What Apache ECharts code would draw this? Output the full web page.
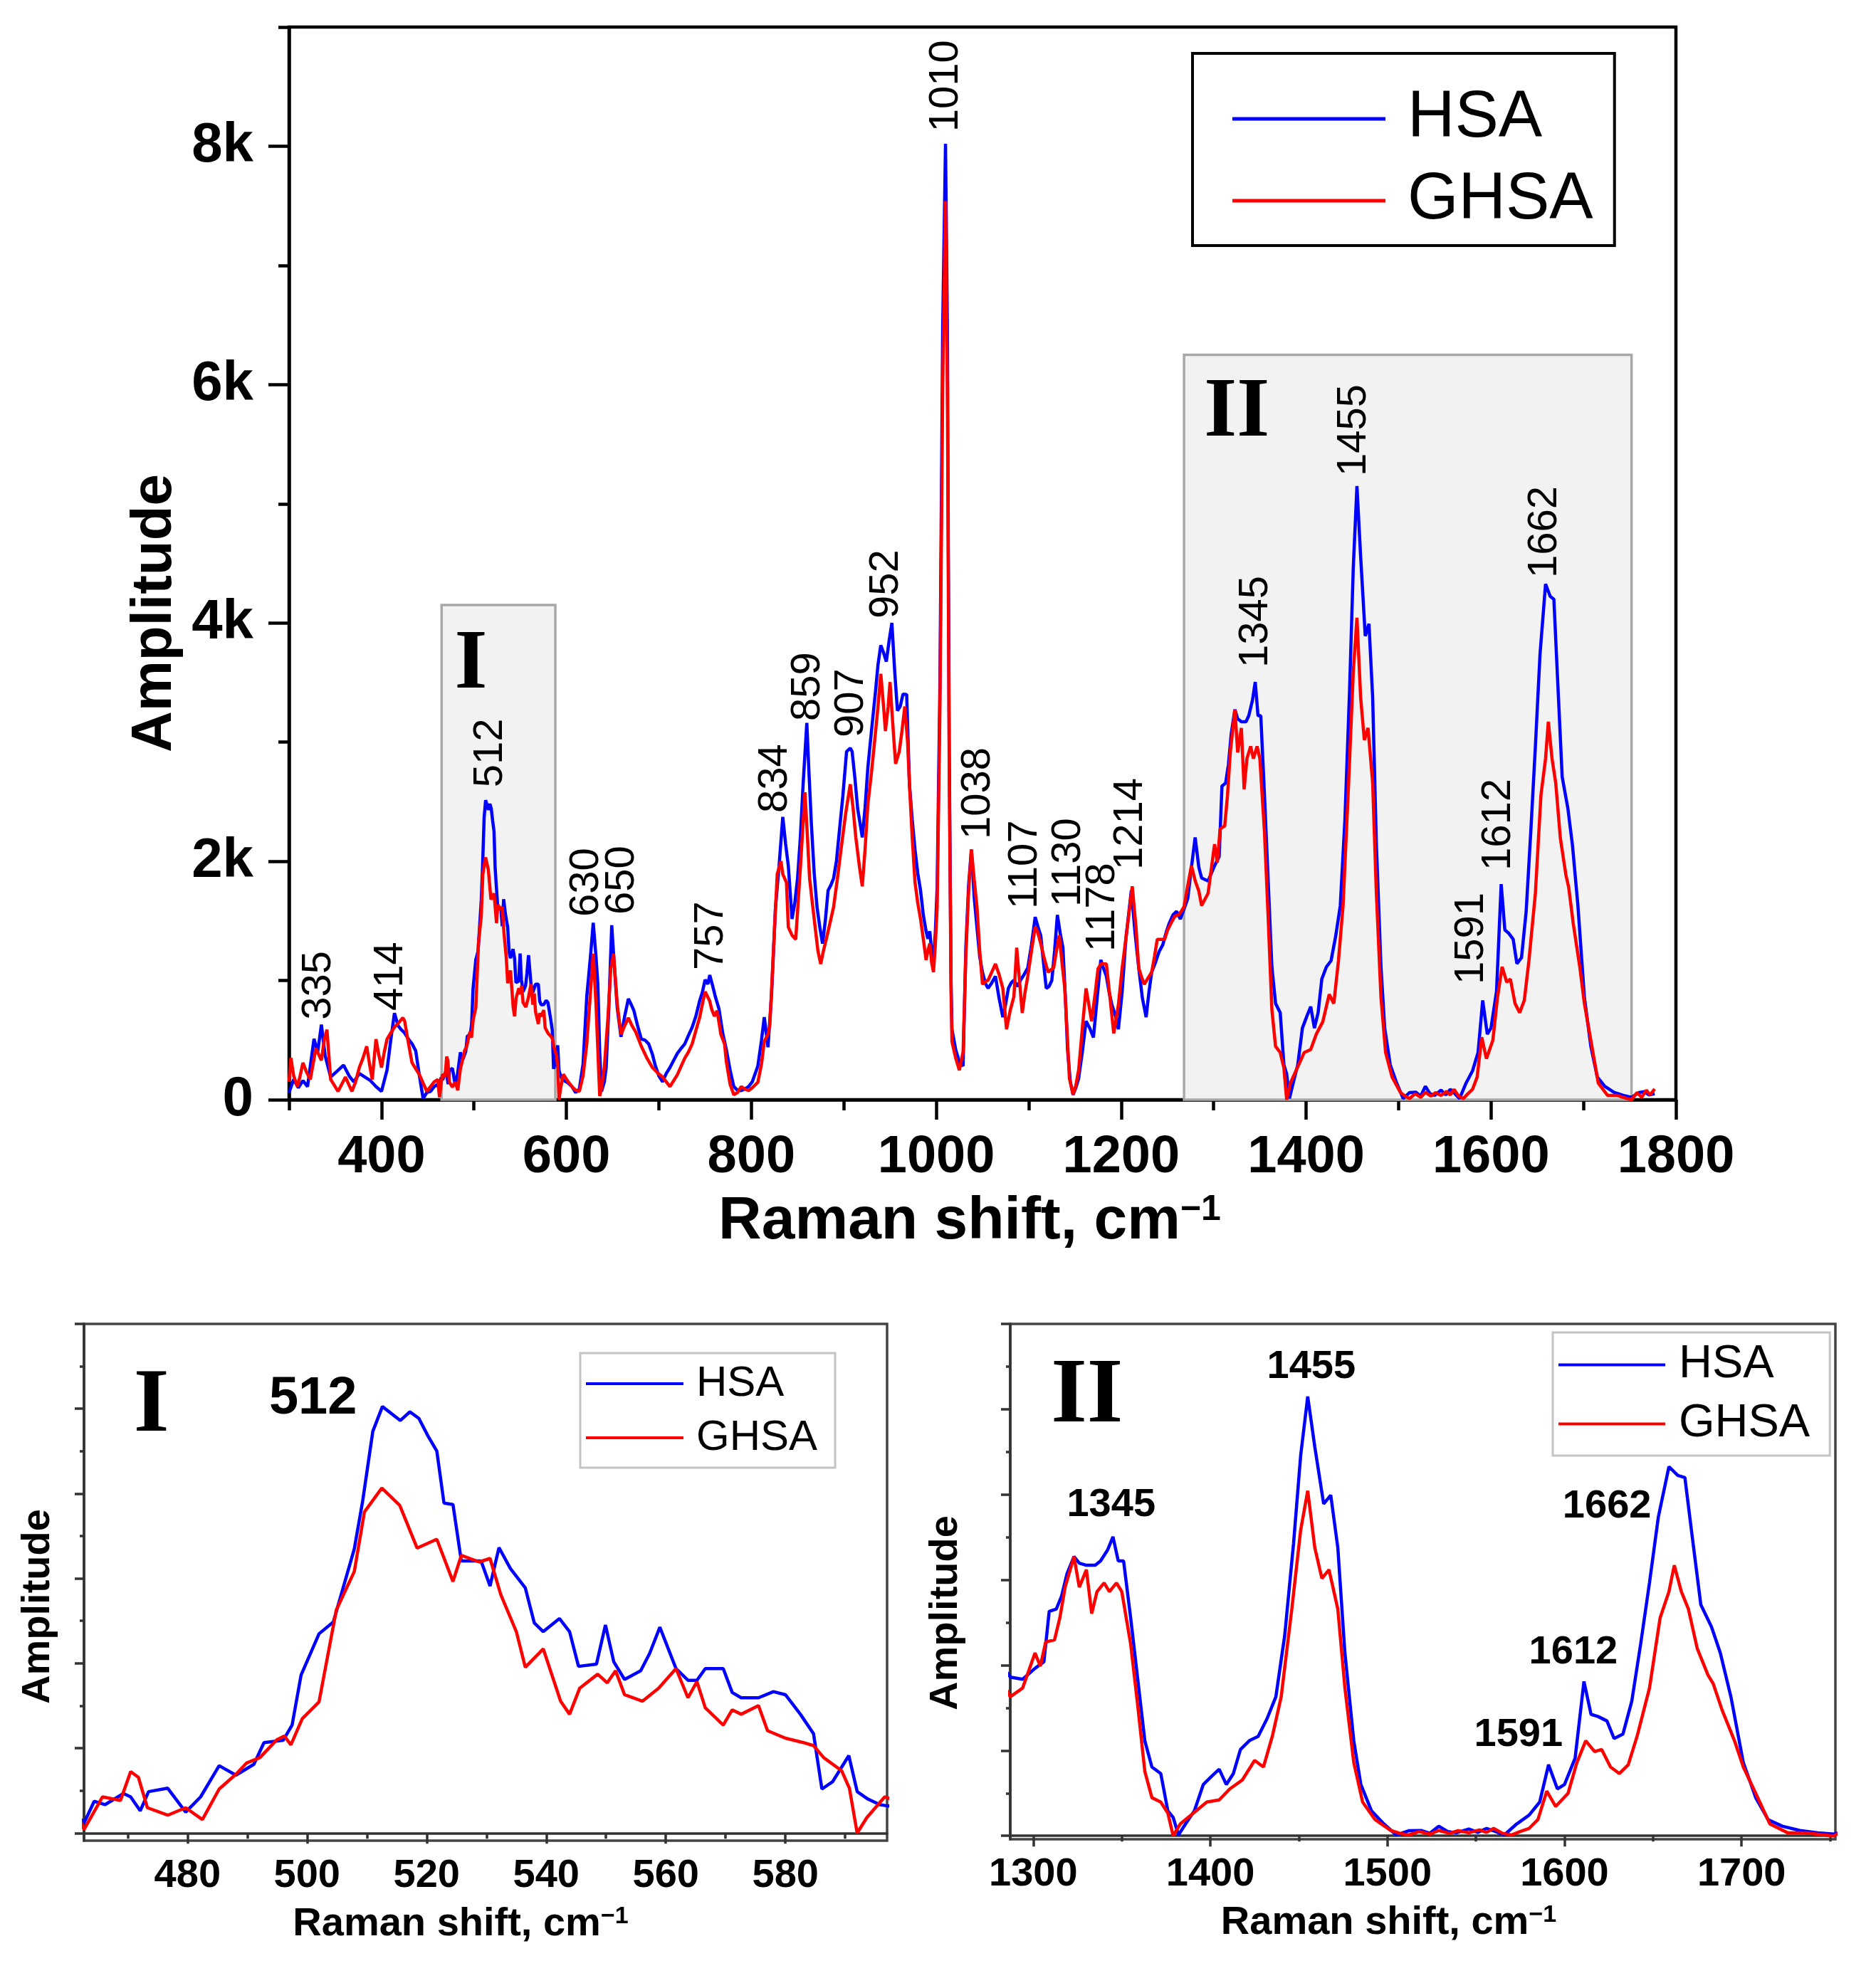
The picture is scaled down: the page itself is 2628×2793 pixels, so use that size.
<!DOCTYPE html>
<html><head><meta charset="utf-8">
<script src="https://cdn.jsdelivr.net/npm/echarts@6/dist/echarts.min.js"></script>
<style>html,body{margin:0;padding:0;background:#fff}#c{width:2628px;height:2793px}</style>
</head><body><div id="c"></div>
<script>
// ---------- DATA ----------
const seriesNames = ['HSA', 'GHSA'];
const hsaSpectrum = [[300,60],[305,170],[310,100],[315,160],[320,110],[327,510],[331,400],[335,630],[339,370],[345,190],[352,240],[359,290],[365,200],[370,150],[376,220],[382,190],[388,160],[394,110],[400,70],[406,250],[410,500],[414,727],[418,620],[421,590],[425,560],[429,510],[433,470],[437,410],[441,200],[445,10],[449,60],[453,70],[457,110],[461,130],
[462.7,59],[464.4,187],[466.2,167],[469.3,233],[470.5,213],[472.1,131],[473.5,244],[476.7,264],[479.7,123],[482.2,213],[485.3,397],[488.1,341],[491.1,405],[492.8,533],[496,546],[497.5,636],[499,931],[502,1174],[504.4,1244],[507.9,1674],[509.3,1956],[511,2367],[512.6,2513],[515.6,2431],[517.2,2482],[518.7,2443],[520.2,2341],[521.7,2251],[522.9,1944],[524.4,1936],[525.8,1603],[529.1,1603],[530.6,1456],[532.1,1682],[534,1559],[536.5,1444],[538,1238],[539.5,1187],[542.2,1264],[543.9,1187],[545.4,982],[548.4,995],[549.9,1226],[551.3,1008],[553.1,905],[555.8,956],[557.3,1059],[559,1213],[561.7,969],[563.7,900],[565.2,900],[566.6,969],[569.6,969],[571.1,828],[572.6,797],[575.5,797],[578,833],[580,815],[582.5,700],[584.7,585],[586.1,259],[587.9,303],[590.6,456],[592,244],[593.8,200],[595.8,167],[596.7,162],
[602,140],[606,110],[610,60],[614,90],[618,300],[622,866],[626,1200],[629,1484],[632,1200],[634,966],[636,400],[638,70],[641,150],[643,270],[646,800],[649,1464],[652,1100],[655,767],[659,528],[663,700],[667,847],[670,800],[673,747],[677,620],[681,508],[685,500],[689,468],[693,380],[696,289],[700,200],[704,150],[708,220],[712,270],[716,330],[720,389],[724,430],[728,468],[732,540],[736,608],[740,700],[744,827],[747,900],[750,1006],[753,970],[755,1046],[758,960],[761,866],[765,762],[769,560],[773,419],[777,250],[781,110],[785,80],[789,76],[793,90],[797,110],[801,150],[807,282],[811,500],[814,693],[818,440],[822,900],[826,1600],[830,1962],[834,2373],[837,2150],[840,1962],[844,1516],[847,1650],[850,1859],[853,2200],[856,2647],[860,3162],[862,2800],[865,2305],[868,1900],[871,1619],[874,1450],[877,1310],[880,1500],[883,1756],[886,1800],[889,1859],[892,2000],[895,2236],[899,2550],[903,2921],[907,2950],[909,2921],[912,2700],[915,2442],[918,2300],[920,2201],[923,2450],[926,2784],[930,3100],[934,3402],[937,3650],[940,3813],[943,3750],[946,3676],[949,3850],[952,4001],[955,3600],[958,3264],[961,3300],[964,3402],[968,3400],[971,2647],[974,2350],[977,2099],[980,1900],[983,1756],[986,1550],[989,1413],[991,1350],[993,1413],[995,1250],[997,1173],[999,1400],[1001,1790],[1004,3500],[1007,6500],[1010,8020],[1012,6500],[1014,3000],[1016,1000],[1017,590],[1021,420],[1025,317],[1029,282],[1032,1276],[1035,1800],[1038,2099],[1041,1700],[1044,1448],[1047,1200],[1050,1070],[1053,980],[1056,934],[1060,980],[1064,1036],[1068,850],[1072,693],[1075,800],[1078,934],[1081,980],[1084,1002],[1088,950],[1091,1002],[1095,1050],[1099,1105],[1103,1300],[1107,1533],[1110,1450],[1113,1379],[1116,1150],[1119,934],[1122,950],[1125,1002],[1128,1250],[1131,1550],[1134,1400],[1137,1276],[1140,800],[1142,419],[1145,150],[1148,42],[1151,100],[1154,179],[1158,400],[1162,659],[1166,600],[1170,522],[1174,850],[1178,1173],[1181,1100],[1184,1036],[1187,900],[1190,796],[1194,700],[1197,591],[1201,900],[1205,1345],[1208,1550],[1211,1756],[1215,1400],[1219,1105],[1223,850],[1227,693],[1230,900],[1233,1070],[1237,1150],[1241,1242],[1245,1300],[1249,1413],[1252,1480],[1256,1550],[1260,1580],[1264,1516],[1268,1600],[1272,1687],[1276,1950],[1280,2201],[1284,1950],
[1287,1860],[1294,1835],[1301,1963],[1306,2040],[1309,2631],[1313,2657],[1316,2811],[1319,3068],[1323,3273],[1326,3196],[1330,3171],[1335,3171],[1338,3222],[1342,3351],[1345,3505],[1348,3222],[1351,3222],[1355,2554],[1359,1835],[1363,1115],[1367,807],[1372,730],[1376,293],[1379,216],[1382,10],[1386,139],[1391,293],[1396,601],[1401,704],[1405,781],[1409,601],[1413,730],[1417,1012],[1422,1115],[1427,1166],[1432,1372],[1437,1629],[1442,2349],[1447,3428],[1451,4456],[1455,5149],[1459,4558],[1464,3890],[1468,3993],[1472,3376],[1476,2143],[1481,1115],[1485,601],[1491,293],[1498,139],[1505,10],[1512,60],[1519,62],[1524,30],[1529,113],[1534,50],[1539,36],[1546,80],[1551,40],[1556,87],[1561,50],[1566,10],[1573,139],[1580,242],[1586,396],[1591,833],[1596,550],[1600,601],[1606,910],[1611,1809],[1615,1424],[1619,1398],[1624,1346],[1628,1141],[1633,1192],[1638,1578],[1643,2246],[1648,2965],[1653,3736],[1659,4327],[1664,4224],[1668,4199],[1672,3531],[1677,2708],[1683,2451],[1688,2143],[1694,1629],[1701,858],[1708,447],[1715,190],[1723,113],[1733,62],[1743,36],[1752,20],[1760,60],[1766,67],[1771,40],[1777,51]];

const ghsaSpectrum = [[300,150],[302,350],[305,200],[309,110],[312,200],[315,310],[319,230],[323,170],[326,300],[329,430],[332,380],[335,330],[338,500],[341,588],[345,170],[349,120],[353,70],[357,130],[361,190],[365,120],[368,70],[372,150],[376,270],[380,350],[384,448],[387,300],[390,170],[394,508],[397,380],[400,270],[403,400],[406,508],[410,560],[414,608],[419,650],[423,687],[425,660],[429,480],[433,310],[437,260],[441,210],[445,140],[449,70],[453,110],[457,150],[461,170],
[462.7,21],[465.8,213],[468.8,192],[470.5,362],[471.8,328],[473.3,149],[476.7,105],[479.7,149],[482.5,79],[485.3,259],[488.1,346],[489.9,413],[492.1,444],[495,551],[496.2,572],[497.3,520],[499.2,674],[502,772],[504.9,1315],[507.9,1541],[509.6,1892],[512.5,2033],[515.5,1931],[518.4,1679],[521.7,1731],[524.4,1482],[525.8,1636],[528.8,1597],[530.6,1618],[532.4,1405],[535,1187],[536.5,977],[539.5,1085],[542.4,777],[543.9,700],[545.6,854],[548.6,936],[550.2,885],[551.6,956],[553.1,815],[556.1,777],[558.8,854],[561.7,969],[563.7,797],[565.2,892],[566.6,738],[569.6,636],[571.1,726],[572.6,700],[575.5,751],[577,603],[580,559],[583,533],[584.7,515],[586.4,444],[589.4,367],[590.7,264],[592,0],[593.6,90],[596.6,213],
[602,150],[606,110],[610,80],[614,70],[618,200],[622,468],[626,900],[629,1225],[632,800],[636,30],[638,100],[641,270],[645,700],[648,1100],[651,1225],[655,800],[659,548],[663,620],[667,687],[671,620],[675,568],[681,448],[687,350],[693,270],[698,230],[704,190],[708,150],[712,110],[716,160],[720,210],[724,280],[728,349],[732,400],[736,468],[740,580],[744,687],[747,800],[750,907],[753,860],[755,827],[757,762],[760,700],[763,747],[767,550],[771,468],[773,317],[777,130],[781,42],[785,60],[789,110],[793,90],[797,76],[801,100],[807,145],[811,300],[814,488],[818,550],[820,625],[824,1265],[828,1893],[832,2001],[834,1893],[838,1822],[840,1448],[844,1380],[848,1345],[851,1700],[854,2065],[858,2579],[860,2300],[863,1859],[866,1650],[869,1448],[872,1250],[875,1139],[878,1250],[881,1345],[885,1480],[889,1619],[893,1850],[897,2099],[902,2400],[907,2647],[910,2450],[913,2201],[917,1950],[920,1790],[923,2100],[926,2476],[930,2750],[934,3059],[937,3300],[940,3573],[943,3300],[945,3093],[948,3300],[950,3504],[953,3150],[956,2819],[960,2921],[963,3100],[966,3299],[969,3000],[971,2647],[974,2200],[977,1825],[980,1650],[983,1516],[986,1350],[989,1173],[991,1250],[993,1310],[995,1150],[997,1070],[999,1300],[1001,1619],[1004,3300],[1007,6000],[1010,7540],[1012,6000],[1014,2800],[1016,900],[1017,488],[1021,350],[1025,248],[1029,400],[1032,1208],[1035,1750],[1038,2099],[1041,1850],[1044,1619],[1047,1250],[1050,968],[1053,990],[1056,1002],[1060,1070],[1064,1139],[1068,1050],[1072,934],[1076,591],[1080,750],[1084,865],[1087,1276],[1090,1000],[1093,728],[1096,900],[1099,1036],[1103,1250],[1107,1448],[1110,1400],[1113,1310],[1117,1180],[1121,1070],[1124,1090],[1127,1105],[1130,1250],[1133,1379],[1136,1150],[1139,934],[1142,500],[1144,179],[1148,42],[1151,120],[1154,248],[1158,600],[1162,934],[1165,800],[1168,659],[1172,900],[1175,1100],[1178,1139],[1181,1139],[1184,1139],[1188,850],[1192,556],[1195,700],[1197,796],[1201,1100],[1205,1345],[1209,1600],[1212,1790],[1216,1450],[1219,1105],[1222,1030],[1225,968],[1229,1020],[1233,1070],[1236,1200],[1239,1345],[1243,1345],[1247,1345],[1250,1420],[1254,1482],[1258,1540],[1262,1550],[1265,1580],[1268,1619],[1273,1838],[1276,1962],[1280,1838],[1284,1750],
[1287,1629],[1294,1732],[1301,2143],[1304,1989],[1307,2271],[1312,2297],[1315,2554],[1318,2914],[1323,3273],[1326,2914],[1330,3119],[1333,2605],[1336,2862],[1340,2965],[1343,2862],[1347,2965],[1350,2862],[1355,2246],[1359,1526],[1363,755],[1367,447],[1372,396],[1376,267],[1379,0],[1383,139],[1389,242],[1398,396],[1405,421],[1411,550],[1418,653],[1425,884],[1430,807],[1435,1166],[1440,1629],[1446,2657],[1451,3582],[1455,4044],[1459,3376],[1463,3017],[1467,3119],[1472,2657],[1476,1732],[1481,858],[1486,396],[1493,190],[1502,62],[1507,30],[1512,10],[1518,50],[1524,20],[1529,62],[1535,30],[1540,60],[1546,36],[1552,70],[1556,40],[1560,87],[1565,30],[1570,10],[1575,50],[1580,87],[1585,190],[1590,524],[1595,344],[1602,498],[1607,858],[1612,1115],[1617,987],[1621,1012],[1626,807],[1631,730],[1636,833],[1641,1166],[1648,1732],[1654,2554],[1659,2862],[1662,3171],[1666,2862],[1670,2657],[1675,2194],[1681,1886],[1684,1783],[1689,1475],[1696,1115],[1701,807],[1708,498],[1716,139],[1726,36],[1736,36],[1747,10],[1752,0],[1758,60],[1763,20],[1768,80],[1772,40],[1777,90]];

// main panel axes
const mainXTicks = [400, 600, 800, 1000, 1200, 1400, 1600, 1800];
const mainXMinorTicks = [300, 500, 700, 900, 1100, 1300, 1500, 1700];
const mainYTicks = [0, 2000, 4000, 6000, 8000];
const mainYMinorTicks = [1000, 3000, 5000, 7000, 9000];
// main peak annotations (label centre shift, label base amplitude, text)
const peakShift = [332, 410, 518, 622, 660, 757, 826, 861, 908, 946, 1011, 1045, 1096, 1143, 1180, 1210, 1346, 1452, 1579, 1608, 1658];
const peakAmp   = [670, 746, 2620, 1535, 1553, 1087, 2407, 3177, 3040, 4037, 8120, 2186, 1600, 1618, 1242, 1929, 3625, 5232, 967, 1923, 4378];
const peakText  = ['335','414','512','630','650','757','834','859','907','952','1010','1038','1107','1130','1178','1214','1345','1455','1591','1612','1662'];
// zoom regions marked in main panel
const regionName  = ['I', 'II'];
const regionStart = [465, 1268];
const regionEnd   = [588, 1752];
const regionTop   = [4150, 6250];

// inset I
const inset1Range = [462.7, 597];
const inset1AmpRange = [-45, 3000];
const inset1XTicks = [480, 500, 520, 540, 560, 580];
const inset1XMinorTicks = [470, 490, 510, 530, 550, 570, 590];
const inset1YTicks = [0, 500, 1000, 1500, 2000, 2500, 3000];
const inset1YMinorTicks = [250, 750, 1250, 1750, 2250, 2750];
const inset1PeakShift = [501]; const inset1PeakAmp = [2400]; const inset1PeakText = ['512'];
const inset1TagShift = [471]; const inset1TagAmp = [2510];

// inset II
const inset2Range = [1287, 1753];
const inset2AmpRange = [-40, 6000];
const inset2XTicks = [1300, 1400, 1500, 1600, 1700];
const inset2XMinorTicks = [1350, 1450, 1550, 1650, 1750];
const inset2YTicks = [0, 1000, 2000, 3000, 4000, 5000, 6000];
const inset2YMinorTicks = [500, 1500, 2500, 3500, 4500, 5500];
const inset2PeakShift = [1344, 1457, 1605, 1574, 1624];
const inset2PeakAmp   = [3640, 5265, 1918, 946, 3626];
const inset2PeakText  = ['1345', '1455', '1612', '1591', '1662'];
const inset2TagShift = [1310]; const inset2TagAmp = [5134];

// ---------- CHART ----------
const SANS = 'Liberation Sans';
const SERIF = 'Liberation Serif';
const BLUE = '#0000ff', RED = '#ff0000';
const chart = echarts.init(document.getElementById('c'), null, {renderer: 'canvas', devicePixelRatio: 1});
const plain = v => String(v);

function xTitle(size, supSize, shift) {
  return {
    name: 'Raman shift, cm{sup|\u22121}',
    nameLocation: 'middle',
    nameTextStyle: {fontFamily: SANS, fontWeight: 'bold', fontSize: size, color: '#000',
      padding: [0, shift * 2, 0, 0],
      rich: {sup: {fontFamily: SANS, fontWeight: 'bold', fontSize: supSize, color: '#000', verticalAlign: 'top'}}}
  };
}
function minorAxis(grid, pos, min, max, ticks, len, width, color) {
  return {gridIndex: grid, type: 'value', position: pos, min: min, max: max,
    axisLine: {show: false}, axisLabel: {show: false}, splitLine: {show: false},
    axisTick: {show: true, inside: false, length: len, customValues: ticks, lineStyle: {width: width, color: color}}};
}
const xAxes = [
  Object.assign({gridIndex: 0, type: 'value', position: 'bottom', min: 300, max: 1800,
    nameGap: 130,
    axisLine: {lineStyle: {color: '#000', width: 4.5}},
    axisTick: {length: 28, customValues: mainXTicks, lineStyle: {width: 4.5, color: '#000'}},
    axisLabel: {customValues: mainXTicks, formatter: plain, fontFamily: SANS, fontWeight: 'bold', fontSize: 74, color: '#000', margin: 45},
    splitLine: {show: false}}, xTitle(84, 50, 18)),
  minorAxis(0, 'bottom', 300, 1800, mainXMinorTicks, 15, 4.5, '#000'),
  Object.assign({gridIndex: 1, type: 'value', position: 'bottom', min: inset1Range[0], max: inset1Range[1],
    nameGap: 90,
    axisLine: {lineStyle: {color: '#333', width: 3.5}},
    axisTick: {length: 15, customValues: inset1XTicks, lineStyle: {width: 3.5, color: '#333'}},
    axisLabel: {customValues: inset1XTicks, formatter: plain, fontFamily: SANS, fontWeight: 'bold', fontSize: 56, color: '#000', margin: 22},
    splitLine: {show: false}}, xTitle(56, 34, 35)),
  minorAxis(1, 'bottom', inset1Range[0], inset1Range[1], inset1XMinorTicks, 8, 3.5, '#333'),
  Object.assign({gridIndex: 2, type: 'value', position: 'bottom', min: inset2Range[0], max: inset2Range[1],
    nameGap: 90,
    axisLine: {lineStyle: {color: '#333', width: 3.5}},
    axisTick: {length: 15, customValues: inset2XTicks, lineStyle: {width: 3.5, color: '#333'}},
    axisLabel: {customValues: inset2XTicks, formatter: plain, fontFamily: SANS, fontWeight: 'bold', fontSize: 56, color: '#000', margin: 22},
    splitLine: {show: false}}, xTitle(56, 34, 48)),
  minorAxis(2, 'bottom', inset2Range[0], inset2Range[1], inset2XMinorTicks, 8, 3.5, '#333')
];
function yTitle(size, gap, shiftDown) {
  return {name: 'Amplitude', nameLocation: 'middle', nameGap: gap,
    nameTextStyle: {fontFamily: SANS, fontWeight: 'bold', fontSize: size, color: '#000', padding: [0, shiftDown * 2, 0, 0]}};
}
const yAxes = [
  Object.assign({gridIndex: 0, type: 'value', position: 'left', min: 0, max: 9000,
    axisLine: {lineStyle: {color: '#000', width: 4.5}},
    axisTick: {length: 29, customValues: mainYTicks, lineStyle: {width: 4.5, color: '#000'}},
    axisLabel: {customValues: mainYTicks, fontFamily: SANS, fontWeight: 'bold', fontSize: 78, color: '#000', margin: 50,
      formatter: v => v === 0 ? '0' : (v / 1000) + 'k'},
    splitLine: {show: false}}, yTitle(80, 132, 70)),
  minorAxis(0, 'left', 0, 9000, mainYMinorTicks, 15, 4.5, '#000'),
  Object.assign({gridIndex: 1, type: 'value', position: 'left', min: inset1AmpRange[0], max: inset1AmpRange[1],
    axisLine: {lineStyle: {color: '#333', width: 3.5}},
    axisTick: {length: 13, customValues: inset1YTicks, lineStyle: {width: 3.5, color: '#333'}},
    axisLabel: {show: false}, splitLine: {show: false}}, yTitle(56, 36, 34)),
  minorAxis(1, 'left', inset1AmpRange[0], inset1AmpRange[1], inset1YMinorTicks, 6, 3.5, '#333'),
  Object.assign({gridIndex: 2, type: 'value', position: 'left', min: inset2AmpRange[0], max: inset2AmpRange[1],
    axisLine: {lineStyle: {color: '#333', width: 3.5}},
    axisTick: {length: 13, customValues: inset2YTicks, lineStyle: {width: 3.5, color: '#333'}},
    axisLabel: {show: false}, splitLine: {show: false}}, yTitle(56, 62, 44)),
  minorAxis(2, 'left', inset2AmpRange[0], inset2AmpRange[1], inset2YMinorTicks, 6, 3.5, '#333')
];

function lineSeries(name, data, xi, yi, color, width, extra) {
  return Object.assign({name: name, type: 'line', xAxisIndex: xi, yAxisIndex: yi, data: data,
    showSymbol: false, symbol: 'none', clip: true, animation: false, silent: true,
    lineStyle: {color: color, width: width}, itemStyle: {color: color}, z: 3}, extra || {});
}
function labelSeries(xi, yi, xs, ys, texts, label) {
  return {type: 'scatter', xAxisIndex: xi, yAxisIndex: yi, symbolSize: 0, silent: true, animation: false, z: 5,
    itemStyle: {opacity: 1, color: '#000'},
    data: xs.map((x, i) => ({value: [x, ys[i]], name: texts[i]})),
    label: Object.assign({show: true, position: 'inside', formatter: '{b}', color: '#000', opacity: 1}, label)};
}

const regionAreas = regionName.map((n, i) => [
  {name: n, xAxis: regionStart[i], yAxis: 0, label: {offset: i === 0 ? [20, 28] : [30, 26]}},
  {xAxis: regionEnd[i], yAxis: regionTop[i]}
]);

const legendBase = {orient: 'vertical', icon: 'rect', backgroundColor: '#fff', selectedMode: false, data: seriesNames};

const option = {
  backgroundColor: '#fff',
  animation: false,
  grid: [
    {left: 406, top: 38, width: 1948, height: 1507, show: true, borderColor: '#000', borderWidth: 4.5, backgroundColor: 'transparent'},
    {left: 118, top: 1860, width: 1128, height: 726, show: true, borderColor: '#444', borderWidth: 3.5, backgroundColor: 'transparent'},
    {left: 1419, top: 1860, width: 1159, height: 724, show: true, borderColor: '#444', borderWidth: 3.5, backgroundColor: 'transparent'}
  ],
  legend: [
    Object.assign({}, legendBase, {left: 1675, top: 75, padding: [46, 30, 17, 56], itemWidth: 215, itemHeight: 5, itemGap: 23,
      borderColor: '#000', borderWidth: 4,
      textStyle: {fontFamily: SANS, fontSize: 92, lineHeight: 92, color: '#000', padding: [0, 0, 0, 26]}}),
    Object.assign({}, legendBase, {left: 815, top: 1901, padding: [13, 25, 12, 8], itemWidth: 137, itemHeight: 4, itemGap: 16,
      borderColor: '#c4c4c4', borderWidth: 3,
      textStyle: {fontFamily: SANS, fontSize: 60, lineHeight: 60, color: '#000', padding: [0, 0, 0, 13]}}),
    Object.assign({}, legendBase, {left: 2181, top: 1872, padding: [13, 28, 12, 8], itemWidth: 150, itemHeight: 4, itemGap: 18,
      borderColor: '#c4c4c4', borderWidth: 3,
      textStyle: {fontFamily: SANS, fontSize: 65, lineHeight: 65, color: '#000', padding: [0, 0, 0, 14]}})
  ],
  xAxis: xAxes,
  yAxis: yAxes,
  series: [
    lineSeries('HSA', hsaSpectrum, 0, 0, BLUE, 4.5, {
      markArea: {silent: true, z: 1,
        itemStyle: {color: '#f2f2f2', borderColor: '#a8a8a8', borderWidth: 3.5},
        label: {show: true, position: 'insideTopLeft', distance: 0, formatter: '{b}', fontFamily: SERIF, fontWeight: 'bold', fontSize: 118, color: '#000'},
        data: regionAreas}}),
    lineSeries('GHSA', ghsaSpectrum, 0, 0, RED, 4.5),
    labelSeries(0, 0, peakShift, peakAmp, peakText,
      {rotate: 90, align: 'left', verticalAlign: 'middle', fontFamily: SANS, fontSize: 58}),
    lineSeries('HSA', hsaSpectrum, 2, 2, BLUE, 4.5),
    lineSeries('GHSA', ghsaSpectrum, 2, 2, RED, 4.5),
    labelSeries(2, 2, inset1PeakShift, inset1PeakAmp, inset1PeakText,
      {align: 'center', verticalAlign: 'bottom', fontFamily: SANS, fontWeight: 'bold', fontSize: 74}),
    labelSeries(2, 2, inset1TagShift, inset1TagAmp, ['I'],
      {align: 'left', verticalAlign: 'middle', fontFamily: SERIF, fontWeight: 'bold', fontSize: 128}),
    lineSeries('HSA', hsaSpectrum, 4, 4, BLUE, 4.5),
    lineSeries('GHSA', ghsaSpectrum, 4, 4, RED, 4.5),
    labelSeries(4, 4, inset2PeakShift, inset2PeakAmp, inset2PeakText,
      {align: 'center', verticalAlign: 'bottom', fontFamily: SANS, fontWeight: 'bold', fontSize: 56}),
    labelSeries(4, 4, inset2TagShift, inset2TagAmp, ['II'],
      {align: 'left', verticalAlign: 'middle', fontFamily: SERIF, fontWeight: 'bold', fontSize: 130})
  ]
};
chart.setOption(option);
</script>
</body></html>
